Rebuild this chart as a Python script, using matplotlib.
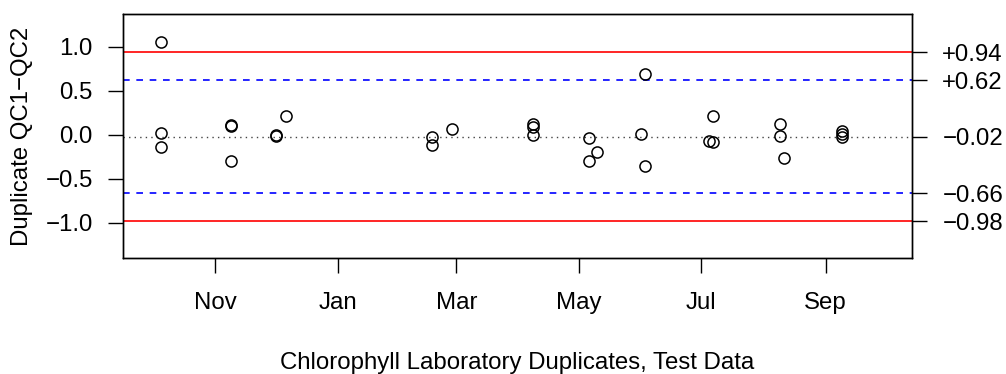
import numpy as np
import pandas as pd
import matplotlib
matplotlib.use("Agg")
import matplotlib.pyplot as plt
import matplotlib.dates as mdates

plt.rcParams['font.family'] = ['Liberation Sans', 'DejaVu Sans']

# duplicate differences QC1-QC2
sample_dates = ["2013-10-05", "2013-10-05", "2013-10-05",
                "2013-11-09", "2013-11-09", "2013-11-09",
                "2013-12-01", "2013-12-01", "2013-12-06",
                "2014-02-17", "2014-02-17", "2014-02-27",
                "2014-04-08", "2014-04-08", "2014-04-08",
                "2014-05-06", "2014-05-06", "2014-05-10",
                "2014-06-01", "2014-06-03", "2014-06-03",
                "2014-07-05", "2014-07-07", "2014-07-07",
                "2014-08-09", "2014-08-09", "2014-08-11",
                "2014-09-09", "2014-09-09", "2014-09-09"]
diffs = [1.06, 0.026, -0.133,
         0.114, 0.10, -0.30,
         -0.004, -0.006, 0.21,
         -0.019, -0.114, 0.064,
         0.13, 0.094, -0.004,
         -0.038, -0.30, -0.19,
         0.011, 0.693, -0.35,
         -0.068, -0.08, 0.21,
         0.12, -0.011, -0.258,
         0.045, 0.011, -0.019]

# control limits
center = -0.02
warn_lo, warn_hi = -0.66, 0.62
ctrl_lo, ctrl_hi = -0.98, 0.94
limit_labels = ["+0.94", "+0.62", "\u22120.02", "\u22120.66", "\u22120.98"]

month_ticks = ["2013-11-01", "2014-01-01", "2014-03-01", "2014-05-01", "2014-07-01", "2014-09-01"]

dates = pd.to_datetime(sample_dates)
FS = 17.3

fig = plt.figure(figsize=(10.06, 3.74), dpi=100)
ax = fig.add_axes([0.1223, 0.3102, 0.7843, 0.6524])

ax.axhline(ctrl_hi, color='red', lw=1.2)
ax.axhline(ctrl_lo, color='red', lw=1.2)
ax.axhline(warn_hi, color='blue', lw=1.2, ls=(0, (4, 4)))
ax.axhline(warn_lo, color='blue', lw=1.2, ls=(0, (4, 4)))
ax.axhline(center, color='#444444', lw=1.0, ls=(0, (1, 3)))

ax.plot(dates, diffs, 'o', mfc='none', mec='black', ms=8, mew=1.1)

ax.set_xlim(pd.Timestamp("2013-09-16"), pd.Timestamp("2014-10-14"))
ax.set_ylim(-1.398, 1.375)

ax.set_xticks(pd.to_datetime(month_ticks))
ax.xaxis.set_major_formatter(mdates.DateFormatter('%b'))
ax.set_yticks([-1.0, -0.5, 0.0, 0.5, 1.0])
ax.set_yticklabels(["\u22121.0", "\u22120.5", "0.0", "0.5", "1.0"])
ax.tick_params(axis='both', direction='out', length=10.8, width=1, labelsize=FS)
ax.tick_params(axis='x', pad=14)
ax.tick_params(axis='y', pad=11)

ax.set_xlabel("Chlorophyll Laboratory Duplicates, Test Data", fontsize=FS)
ax.xaxis.set_label_coords(0.5, -0.385)
fig.text(22 / 1006, 0.636, "Duplicate QC1\u2212QC2", rotation=90,
         ha='center', va='center', fontsize=FS)

ax2 = ax.twinx()
ax2.set_ylim(ax.get_ylim())
ax2.set_yticks([ctrl_hi, warn_hi, center, warn_lo, ctrl_lo])
ax2.set_yticklabels(limit_labels)
ax2.tick_params(axis='y', direction='out', length=10.8, width=1, labelsize=FS, pad=11)

for a in (ax, ax2):
    for s in a.spines.values():
        s.set_linewidth(1)

fig.savefig("out.png", dpi=100)
